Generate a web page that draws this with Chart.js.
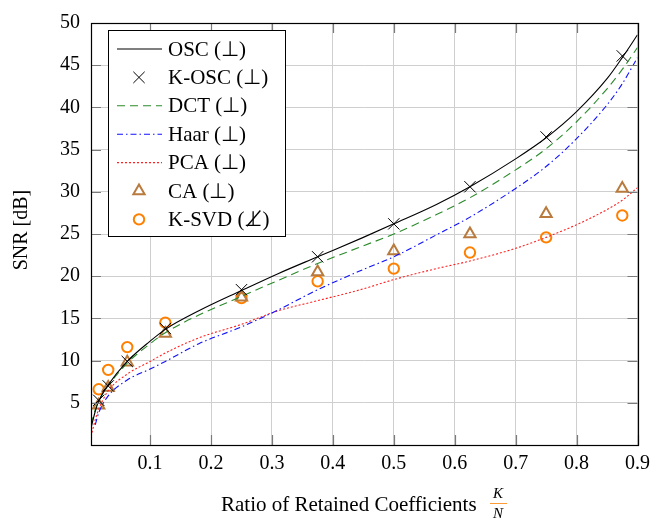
<!DOCTYPE html>
<html>
<head>
<meta charset="utf-8">
<script src="https://cdn.jsdelivr.net/npm/chart.js@4"></script>
<style>
    html, body { margin: 0; padding: 0; background: #fff; }
    #wrap { width: 657px; height: 520px; }
</style>
</head>
<body>
<div id="wrap"><canvas id="snrChart" width="657" height="520"></canvas></div>
<script>
// curve samples (K/N ratio on x)
const curveX = [0.003, 0.01, 0.0156, 0.03, 0.0625, 0.1, 0.125, 0.18, 0.25, 0.31, 0.375, 0.45, 0.5, 0.57, 0.625, 0.7, 0.75, 0.8, 0.85, 0.875, 0.9];
const oscY  = [2.0, 4.0, 5.2, 7.0, 9.9, 12.3, 13.7, 15.9, 18.3, 20.3, 22.3, 24.6, 26.2, 28.5, 30.6, 33.9, 36.4, 39.5, 43.4, 45.9, 48.6];
const dctY  = [2.4, 4.2, 5.2, 6.9, 9.7, 12.0, 13.3, 15.4, 17.6, 19.5, 21.5, 23.6, 25.0, 27.3, 29.3, 32.6, 35.1, 38.3, 42.2, 44.5, 47.1];
const haarY = [null, 2.4, 3.8, 5.7, 7.7, 9.0, 9.9, 12.0, 14.0, 16.0, 18.4, 20.8, 22.3, 24.9, 27.0, 30.4, 33.0, 36.3, 40.3, 42.8, 45.9];
const pcaY  = [1.0, 3.0, 4.2, 6.3, 8.4, 9.9, 10.9, 12.7, 14.3, 15.9, 17.1, 18.5, 19.6, 20.9, 21.8, 23.3, 24.6, 26.1, 27.9, 29.0, 30.5];

// marker samples
const markX = [0.015625, 0.03125, 0.0625, 0.125, 0.25, 0.375, 0.5, 0.625, 0.75, 0.875];
const koscY = [5.3, 7.0, 9.9, 13.8, 18.4, 22.3, 26.2, 30.6, 36.5, 46.1];
const caY   = [4.7, 6.8, 9.8, 13.2, 17.5, 20.5, 23.0, 25.0, 27.4, 30.4];
const ksvdY = [6.6, 8.9, 11.6, 14.5, 17.4, 19.4, 20.9, 22.8, 24.6, 27.2];

const seriesNames = ['OSC (\u22A5)', 'K-OSC (\u22A5)', 'DCT (\u22A5)', 'Haar (\u22A5)', 'PCA (\u22A5)', 'CA (\u22A5)', 'K-SVD (\u22A5\u0338)'];
const xTicks = [0.1, 0.2, 0.3, 0.4, 0.5, 0.6, 0.7, 0.8, 0.9];
const yTicks = [5, 10, 15, 20, 25, 30, 35, 40, 45, 50];

const FONT = '"Liberation Serif", "Times New Roman", serif';
const pts = (xs, ys) => xs.map((x, i) => ({ x, y: ys[i] }));

const lineSet = (label, ys, color, dash) => ({
    label,
    data: pts(curveX, ys),
    borderColor: color,
    borderWidth: 1.1,
    borderDash: dash,
    pointRadius: 0,
    fill: false,
    cubicInterpolationMode: 'monotone',
    showLine: true
});

const markSet = (label, ys, color, style, r, w) => ({
    label,
    data: pts(markX, ys),
    borderColor: color,
    backgroundColor: 'rgba(0,0,0,0)',
    borderWidth: w,
    pointStyle: style,
    pointRadius: r,
    showLine: false
});

const datasets = [
    lineSet(seriesNames[0], oscY, '#000000', []),
    markSet(seriesNames[1], koscY, '#000000', 'crossRot', 8, 1),
    lineSet(seriesNames[2], dctY, '#2a8a2a', [8, 5]),
    lineSet(seriesNames[3], haarY, '#1010ff', [6, 3, 1.5, 3]),
    lineSet(seriesNames[4], pcaY, '#ff2020', [2, 2]),
    markSet(seriesNames[5], caY, '#b87a3d', 'triangle', 6.5, 2),
    markSet(seriesNames[6], ksvdY, '#ff8000', 'circle', 5.2, 2)
];

// frame, inner ticks, legend and axis titles in the pgfplots look
const decor = {
    id: 'decor',
    afterDraw(chart) {
        const { ctx, chartArea: a, scales } = chart;
        ctx.save();

        // inner tick marks on all four sides
        ctx.strokeStyle = '#7a7a7a';
        ctx.lineWidth = 1.2;
        const tl = 10;
        xTicks.forEach(v => {
            const px = Math.round(scales.x.getPixelForValue(v)) + 0.5;
            ctx.beginPath();
            ctx.moveTo(px, a.top); ctx.lineTo(px, a.top + tl);
            ctx.moveTo(px, a.bottom); ctx.lineTo(px, a.bottom - tl);
            ctx.stroke();
        });
        yTicks.forEach(v => {
            const py = Math.round(scales.y.getPixelForValue(v)) + 0.5;
            ctx.beginPath();
            ctx.moveTo(a.left, py); ctx.lineTo(a.left + tl, py);
            ctx.moveTo(a.right, py); ctx.lineTo(a.right - tl, py);
            ctx.stroke();
        });

        // frame
        ctx.strokeStyle = '#000';
        ctx.lineWidth = 1.2;
        ctx.strokeRect(Math.round(a.left) + 0.5, Math.round(a.top) + 0.5,
            Math.round(a.right - a.left), Math.round(a.bottom - a.top));

        // legend box
        const bx = 108, by = 30, bw = 177, bh = 206, row = 28.4;
        ctx.fillStyle = '#fff';
        ctx.fillRect(bx, by, bw, bh);
        ctx.strokeStyle = '#000';
        ctx.lineWidth = 1;
        ctx.strokeRect(bx + 0.5, by + 0.5, bw, bh);

        ctx.font = '21px ' + FONT;
        ctx.textBaseline = 'middle';
        ctx.textAlign = 'left';
        datasets.forEach((ds, i) => {
            const y = by + 19 + i * row;
            if (ds.showLine) {
                ctx.strokeStyle = ds.borderColor;
                ctx.lineWidth = ds.borderWidth;
                ctx.setLineDash(ds.borderDash);
                ctx.beginPath();
                ctx.moveTo(117, y); ctx.lineTo(162, y);
                ctx.stroke();
                ctx.setLineDash([]);
            } else {
                ctx.fillStyle = 'rgba(0,0,0,0)';
                ctx.strokeStyle = ds.borderColor;
                ctx.lineWidth = ds.borderWidth;
                Chart.helpers.drawPoint(ctx, {
                    pointStyle: ds.pointStyle,
                    radius: ds.pointRadius,
                    borderWidth: ds.borderWidth,
                    rotation: 0
                }, 139, y);
            }
            ctx.fillStyle = '#000';
            ctx.fillText(ds.label, 168, y + 1);
        });

        // y axis title
        ctx.font = '20px ' + FONT;
        ctx.save();
        ctx.translate(22, 230);
        ctx.rotate(-Math.PI / 2);
        ctx.textAlign = 'center';
        ctx.fillText('SNR [dB]', 0, 0);
        ctx.restore();

        // x axis title with K/N fraction
        ctx.font = '21px ' + FONT;
        ctx.textAlign = 'left';
        ctx.fillText('Ratio of Retained Coefficients', 221, 505);
        ctx.font = 'italic 15px ' + FONT;
        ctx.textAlign = 'center';
        ctx.fillText('K', 498, 494);
        ctx.fillText('N', 498, 514);
        ctx.lineWidth = 0.8;
        ctx.beginPath();
        ctx.moveTo(490, 503.5); ctx.lineTo(507, 503.5);
        ctx.stroke();

        ctx.restore();
    }
};

new Chart(document.getElementById('snrChart'), {
    type: 'scatter',
    data: { datasets },
    options: {
        responsive: false,
        animation: false,
        events: [],
        layout: { padding: { left: 0, right: 14, top: 17, bottom: 0 } },
        plugins: {
            legend: { display: false },
            tooltip: { enabled: false }
        },
        scales: {
            x: {
                type: 'linear',
                min: 0.003,
                max: 0.9,
                afterBuildTicks: s => { s.ticks = xTicks.map(v => ({ value: v })); },
                afterFit: s => { s.height = 75; },
                grid: { color: '#cfcfcf', lineWidth: 1, drawTicks: false },
                border: { display: false },
                ticks: {
                    padding: 7,
                    color: '#000',
                    font: { family: FONT, size: 20 },
                    maxRotation: 0,
                    callback: v => v.toFixed(1)
                }
            },
            y: {
                type: 'linear',
                min: 0,
                max: 50,
                afterBuildTicks: s => { s.ticks = yTicks.map(v => ({ value: v })); },
                afterFit: s => { s.width = 91; },
                grid: { color: '#cfcfcf', lineWidth: 1, drawTicks: false },
                border: { display: false },
                ticks: {
                    padding: 11,
                    color: '#000',
                    font: { family: FONT, size: 20 },
                    callback: v => String(v)
                }
            }
        }
    },
    plugins: [decor]
});
</script>
</body>
</html>
